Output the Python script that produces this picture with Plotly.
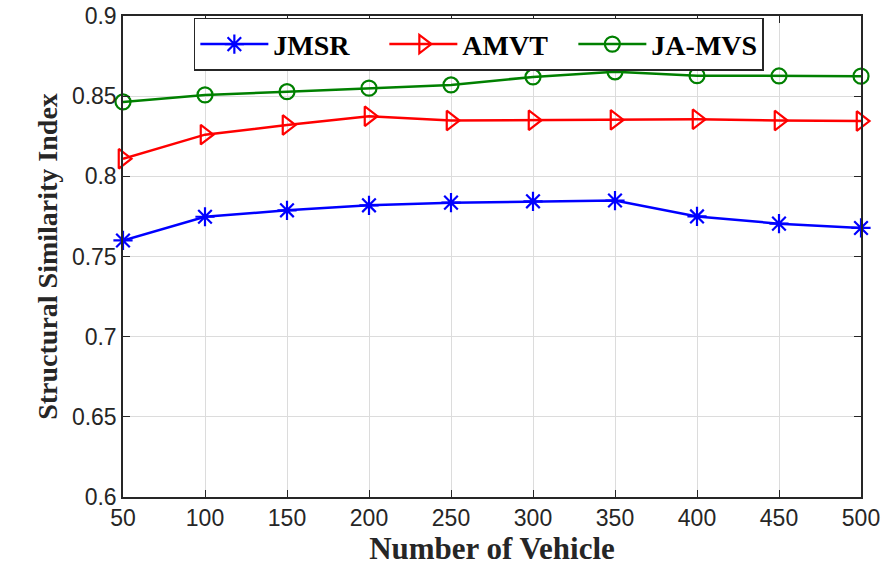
import plotly.graph_objects as go

vehicles = [50, 100, 150, 200, 250, 300, 350, 400, 450, 500]
ssim_jmsr = [0.760, 0.7748, 0.7788, 0.7819, 0.7836, 0.7844, 0.7849, 0.7750, 0.7705, 0.7678]
ssim_amvt = [0.8110, 0.8260, 0.8320, 0.8375, 0.8348, 0.8350, 0.8352, 0.8356, 0.8348, 0.8345]
ssim_jamvs = [0.8464, 0.8508, 0.8528, 0.8550, 0.8570, 0.8620, 0.8652, 0.8628, 0.8626, 0.8625]

x_ticks = [50, 100, 150, 200, 250, 300, 350, 400, 450, 500]
y_ticks = [0.6, 0.65, 0.7, 0.75, 0.8, 0.85, 0.9]
y_tick_text = ["0.6", "0.65", "0.7", "0.75", "0.8", "0.85", "0.9"]

series = [
    ("JMSR", ssim_jmsr, "#0000ff", "asterisk-open", 16),
    ("AMVT", ssim_amvt, "#ff0000", "triangle-right-open", 17),
    ("JA-MVS", ssim_jamvs, "#008000", "circle-open", 15),
]

serif = "Liberation Serif, Times New Roman, serif"
sans = "Liberation Sans, Arial, sans-serif"

fig = go.Figure()
for name, vals, color, symbol, size in series:
    fig.add_trace(go.Scatter(
        x=vehicles, y=vals, name=f"<b>{name}</b>", mode="lines+markers",
        line=dict(color=color, width=2.5),
        marker=dict(symbol=symbol, size=size, color=color,
                    line=dict(color=color, width=2.2)),
        cliponaxis=False,
    ))

axis_common = dict(
    showline=True, linecolor="#262626", linewidth=1.5, mirror="ticks",
    ticks="inside", ticklen=7, tickwidth=1, tickcolor="#262626",
    showgrid=True, gridcolor="#dcdcdc", gridwidth=1, zeroline=False,
    automargin=False,
    tickfont=dict(family=sans, size=23, color="#262626"),
)

fig.update_layout(
    width=887, height=569,
    margin=dict(l=123, r=26, t=16, b=72),
    paper_bgcolor="white", plot_bgcolor="white",
    xaxis=dict(
        range=[50, 500], tickvals=x_ticks,
        title=dict(text="<b>Number of Vehicle</b>", standoff=4,
                   font=dict(family=serif, size=31, color="#262626")),
        **axis_common,
    ),
    yaxis=dict(
        range=[0.6, 0.9], tickvals=y_ticks, ticktext=y_tick_text,
        title=dict(text="<b>Structural Similarity Index</b>", standoff=6,
                   font=dict(family=serif, size=28, color="#262626")),
        **axis_common,
    ),
    legend=dict(
        orientation="h", x=0.096, y=0.996, xanchor="left", yanchor="top",
        bgcolor="white", bordercolor="#262626", borderwidth=1.5,
        font=dict(family=serif, size=28, color="black"),
        itemwidth=68, entrywidth=106, entrywidthmode="pixels",
        tracegroupgap=0, itemclick=False,
    ),
    showlegend=True,
)

fig.write_html("out.html")
